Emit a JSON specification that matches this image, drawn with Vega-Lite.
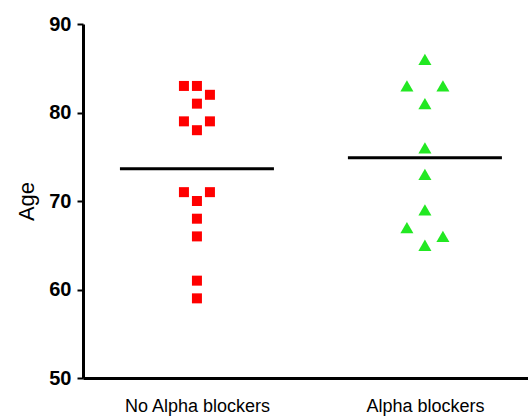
{
  "$schema": "https://vega.github.io/schema/vega-lite/v6.json",
  "width": 445,
  "height": 354,
  "autosize": "none",
  "padding": {"left": 83, "top": 24, "right": 0, "bottom": 40},
  "config": {"view": {"stroke": null}, "font": "Liberation Sans"},
  "data": {
    "values": [
      {"group": "No Alpha blockers", "age": 83, "slot": -1},
      {"group": "No Alpha blockers", "age": 83, "slot": 0},
      {"group": "No Alpha blockers", "age": 82, "slot": 1},
      {"group": "No Alpha blockers", "age": 81, "slot": 0},
      {"group": "No Alpha blockers", "age": 79, "slot": -1},
      {"group": "No Alpha blockers", "age": 79, "slot": 1},
      {"group": "No Alpha blockers", "age": 78, "slot": 0},
      {"group": "No Alpha blockers", "age": 71, "slot": -1},
      {"group": "No Alpha blockers", "age": 71, "slot": 1},
      {"group": "No Alpha blockers", "age": 70, "slot": 0},
      {"group": "No Alpha blockers", "age": 68, "slot": 0},
      {"group": "No Alpha blockers", "age": 66, "slot": 0},
      {"group": "No Alpha blockers", "age": 61, "slot": 0},
      {"group": "No Alpha blockers", "age": 59, "slot": 0},
      {"group": "Alpha blockers", "age": 86, "slot": 0},
      {"group": "Alpha blockers", "age": 83, "slot": -1},
      {"group": "Alpha blockers", "age": 83, "slot": 1},
      {"group": "Alpha blockers", "age": 81, "slot": 0},
      {"group": "Alpha blockers", "age": 76, "slot": 0},
      {"group": "Alpha blockers", "age": 73, "slot": 0},
      {"group": "Alpha blockers", "age": 69, "slot": 0},
      {"group": "Alpha blockers", "age": 67, "slot": -1},
      {"group": "Alpha blockers", "age": 66, "slot": 1},
      {"group": "Alpha blockers", "age": 65, "slot": 0}
    ]
  },
  "encoding": {
    "x": {
      "field": "group",
      "type": "nominal",
      "sort": ["No Alpha blockers", "Alpha blockers"],
      "scale": {"type": "point", "padding": 0.476, "align": 0.525},
      "axis": {
        "title": null,
        "labelAngle": 0,
        "ticks": false,
        "domainWidth": 3,
        "domainColor": "black",
        "labelFontSize": 18,
        "labelColor": "black",
        "labelPadding": 19
      }
    },
    "y": {
      "field": "age",
      "type": "quantitative",
      "scale": {"domain": [50, 90], "nice": false, "zero": false},
      "axis": {
        "title": "Age",
        "values": [50, 60, 70, 80, 90],
        "grid": false,
        "domainWidth": 3,
        "domainColor": "black",
        "tickColor": "black",
        "tickWidth": 2,
        "tickSize": 6,
        "labelFontSize": 20,
        "labelFontWeight": "bold",
        "labelColor": "black",
        "labelPadding": 6,
        "titleFontSize": 22,
        "titleFontWeight": "normal",
        "titleColor": "black",
        "titlePadding": 10
      }
    }
  },
  "layer": [
    {
      "transform": [{"filter": "datum.group === 'No Alpha blockers'"}],
      "mark": {"type": "point", "shape": "square", "filled": true, "size": 100, "color": "#ff0000", "opacity": 1},
      "encoding": {
        "xOffset": {"field": "slot", "type": "quantitative", "scale": {"domain": [-1, 1], "range": [-13, 13]}}
      }
    },
    {
      "transform": [{"filter": "datum.group === 'Alpha blockers'"}],
      "mark": {"type": "point", "shape": "triangle-up", "filled": true, "size": 170, "color": "#22e822", "opacity": 1},
      "encoding": {
        "xOffset": {"field": "slot", "type": "quantitative", "scale": {"domain": [-1, 1], "range": [-18, 18]}}
      }
    },
    {
      "mark": {"type": "tick", "color": "black", "thickness": 3, "size": 154, "opacity": 1},
      "encoding": {
        "y": {"aggregate": "mean", "field": "age", "type": "quantitative"}
      }
    }
  ],
  "resolve": {"scale": {"xOffset": "independent"}}
}
